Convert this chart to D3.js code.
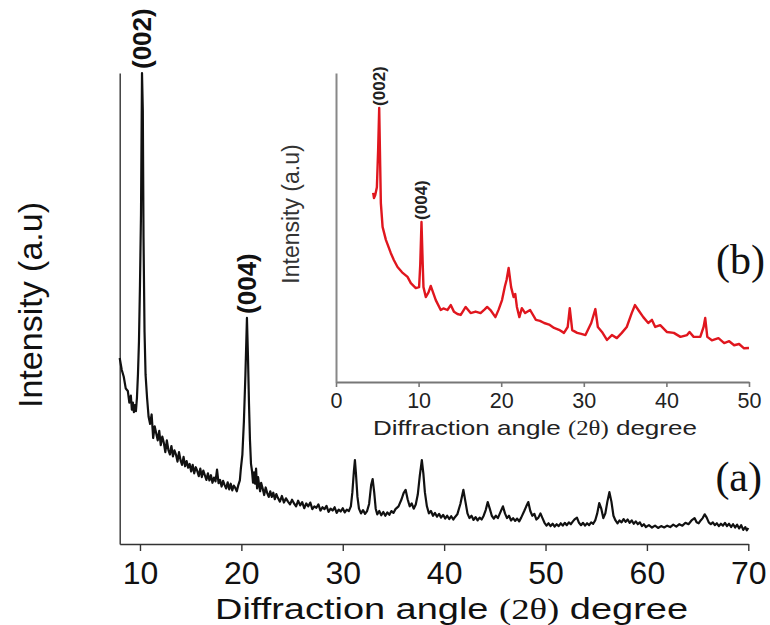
<!DOCTYPE html>
<html>
<head>
<meta charset="utf-8">
<script src="https://cdn.jsdelivr.net/npm/d3@7"></script>
<style>
  body { margin: 0; background: #fff; }
  svg { display: block; }
</style>
</head>
<body>
<svg id="chart" width="770" height="625"></svg>
<script>
// ---- XRD pattern (a): diffraction angle 2θ (deg) and intensity (a.u.) ----
const mainAngle = [
  8.0, 8.2, 8.4, 8.6, 8.8, 8.95, 9.1, 9.2, 9.3, 9.4, 9.5, 9.6, 9.7, 9.8, 9.9, 10.0, 10.1, 10.2, 10.28, 10.35,
  10.45, 10.55, 10.7, 10.85, 11.0, 11.15, 11.3, 11.45, 11.6, 11.75, 11.9, 12.05, 12.2, 12.35, 12.5, 12.65, 12.8, 12.95, 13.1, 13.25,
  13.4, 13.55, 13.7, 13.85, 14.0, 14.15, 14.3, 14.45, 14.6, 14.75, 14.9, 15.05, 15.2, 15.35, 15.5, 15.65, 15.8, 15.95, 16.1, 16.25,
  16.4, 16.55, 16.7, 16.85, 17.0, 17.15, 17.3, 17.45, 17.6, 17.75, 17.9, 18.05, 18.2, 18.35, 18.5, 18.65, 18.8, 18.95, 19.1, 19.25,
  19.4, 19.55, 19.7, 19.85, 19.95, 20.1, 20.25, 20.4, 20.55, 20.65, 20.75, 20.85, 20.95, 21.05, 21.15, 21.25, 21.35, 21.45, 21.55, 21.65,
  21.75, 21.85, 21.95, 22.1, 22.25, 22.4, 22.55, 22.7, 22.85, 23.0, 23.15, 23.3, 23.45, 23.6, 23.8, 24.0, 24.2, 24.4, 24.6, 24.8,
  25.0, 25.2, 25.4, 25.6, 25.8, 26.0, 26.2, 26.4, 26.6, 26.8, 27.0, 27.2, 27.4, 27.6, 27.8, 28.0, 28.2, 28.4, 28.6, 28.8,
  29.0, 29.2, 29.4, 29.6, 29.8, 30.0, 30.2, 30.4, 30.6, 30.8, 30.95, 31.1, 31.2, 31.3, 31.45, 31.6, 31.8, 32.0, 32.2, 32.4,
  32.6, 32.8, 32.95, 33.1, 33.25, 33.4, 33.6, 33.8, 34.0, 34.2, 34.4, 34.6, 34.8, 35.0, 35.2, 35.5, 35.8, 36.0, 36.2, 36.4,
  36.6, 36.8, 37.0, 37.2, 37.4, 37.6, 37.8, 37.95, 38.1, 38.3, 38.5, 38.7, 38.9, 39.1, 39.3, 39.5, 39.7, 39.9, 40.1, 40.3,
  40.5, 40.7, 40.9, 41.1, 41.3, 41.6, 41.9, 42.1, 42.3, 42.5, 42.7, 42.9, 43.1, 43.3, 43.5, 43.7, 43.9, 44.1, 44.3, 44.5,
  44.7, 44.9, 45.1, 45.3, 45.5, 45.8, 46.0, 46.2, 46.4, 46.6, 46.8, 47.0, 47.2, 47.4, 47.6, 47.9, 48.1, 48.3, 48.5, 48.7,
  48.9, 49.1, 49.3, 49.5, 49.7, 49.9, 50.1, 50.3, 50.5, 50.7, 50.9, 51.1, 51.3, 51.5, 51.7, 51.9, 52.1, 52.3, 52.5, 52.7,
  52.9, 53.1, 53.3, 53.5, 53.7, 53.9, 54.1, 54.3, 54.5, 54.7, 54.9, 55.1, 55.3, 55.5, 55.7, 55.9, 56.1, 56.3, 56.5, 56.7,
  56.9, 57.1, 57.3, 57.5, 57.7, 57.9, 58.1, 58.3, 58.5, 58.7, 58.9, 59.1, 59.3, 59.5, 59.7, 59.9, 60.2, 60.5, 60.8, 61.1,
  61.4, 61.7, 62.0, 62.3, 62.6, 62.9, 63.2, 63.5, 63.8, 64.1, 64.4, 64.7, 64.9, 65.1, 65.3, 65.5, 65.7, 65.9, 66.1, 66.3,
  66.5, 66.7, 66.9, 67.1, 67.3, 67.5, 67.7, 67.9, 68.1, 68.3, 68.5, 68.7, 68.9, 69.1, 69.3, 69.5, 69.7, 69.85, 70.0
];
const mainIntensity = [
  39.5, 37.0, 35.5, 33.0, 32.5, 30.0, 31.5, 28.5, 30.0, 28.0, 29.5, 28.2, 31.0, 36.0, 43.0, 55.0, 70.0, 100.0, 92.0, 65.0,
  45.0, 36.0, 31.0, 27.0, 25.5, 27.5, 22.5, 25.0, 23.5, 22.0, 24.0, 21.0, 22.8, 21.5, 19.5, 22.0, 20.0, 19.0, 20.8, 18.6,
  19.9, 19.0, 17.5, 19.5, 17.8, 16.8, 18.5, 16.5, 17.6, 16.2, 17.0, 15.4, 16.8, 15.0, 16.3, 15.5, 14.4, 16.0, 14.2, 15.6,
  14.6, 13.6, 15.0, 13.5, 14.6, 13.0, 14.1, 13.3, 15.8, 12.9, 13.6, 12.2, 13.4, 12.5, 11.8, 13.1, 11.6, 12.8, 11.4, 12.4,
  11.9, 11.2, 12.5, 13.5, 16.0, 19.0, 26.0, 36.0, 48.0, 40.0, 30.0, 22.0, 17.0, 15.5, 13.0, 15.2, 12.8, 16.0, 11.8, 14.2,
  12.5, 11.2, 13.0, 11.8, 10.4, 12.0, 10.8, 10.0, 11.2, 10.0, 10.9, 9.5, 10.6, 9.8, 9.0, 10.2, 8.8, 9.7, 9.0, 8.4,
  9.4, 8.6, 8.0, 9.2, 8.2, 8.9, 7.6, 8.6, 8.0, 8.8, 7.4, 8.0, 7.7, 8.4, 7.1, 7.8, 7.4, 8.1, 6.8, 7.5,
  7.1, 7.8, 6.6, 7.3, 6.9, 7.6, 6.7, 7.3, 7.0, 8.0, 11.0, 15.5, 17.8, 15.0, 10.0, 7.5, 6.5, 7.2, 6.4, 7.0,
  8.5, 12.5, 13.8, 11.0, 7.5, 6.3, 7.0, 6.1, 6.8, 6.0, 6.7, 6.2, 7.0, 6.6, 7.4, 8.0, 9.5, 10.8, 11.5, 9.5,
  8.0, 8.6, 7.5, 8.4, 10.5, 14.5, 17.8, 15.0, 11.0, 8.0, 6.5, 7.0, 6.0, 6.6, 5.8, 6.4, 5.6, 6.2, 5.4, 6.0,
  5.3, 5.9, 5.2, 5.8, 6.3, 8.5, 11.5, 9.0, 6.5, 5.5, 6.0, 5.1, 5.7, 5.0, 5.6, 5.2, 6.0, 7.2, 8.9, 7.5,
  6.0, 5.4, 6.0, 5.5, 6.5, 8.0, 6.5, 5.5, 6.0, 5.0, 5.5, 4.9, 5.4, 4.8, 5.6, 7.0, 8.0, 8.9, 7.0, 6.0,
  6.4, 5.2, 5.6, 6.5, 5.5, 4.5, 3.9, 4.4, 3.8, 4.3, 3.7, 4.2, 3.8, 4.4, 3.9, 4.5, 4.0, 4.6, 4.2, 4.8,
  5.3, 5.6, 4.5, 4.0, 4.5, 3.9, 4.4, 4.0, 4.6, 4.3, 5.0, 6.5, 8.7, 7.5, 5.5, 6.5, 9.0, 11.0, 9.0, 6.0,
  5.0, 4.4, 5.0, 4.6, 5.3, 4.7, 5.2, 4.5, 5.0, 4.3, 4.8, 4.2, 4.6, 3.8, 4.2, 3.6, 4.0, 3.5, 3.9, 3.4,
  3.8, 3.5, 3.9, 3.6, 4.1, 3.7, 4.2, 3.9, 4.5, 4.2, 5.0, 5.5, 4.6, 4.4, 5.0, 5.5, 6.3, 5.6, 4.6, 4.2,
  4.6, 4.0, 4.4, 3.8, 4.3, 3.9, 4.5, 3.8, 4.3, 3.6, 4.2, 3.5, 4.1, 3.3, 4.0, 3.0, 3.6, 2.9, 3.4
];
const mainTicks = [10, 20, 30, 40, 50, 60, 70];
const mainPeakLabels = ["(002)", "(004)"];
const mainPeakAngle = [10.2, 20.55];
const mainPeakIntensity = [100.0, 48.0];

// ---- XRD pattern (b), inset ----
const insetAngle = [
  4.5, 4.6, 4.75, 4.95, 5.1, 5.23, 5.35, 5.43, 5.64, 6.04, 6.64, 7.0, 7.45, 8.0, 8.66, 9.06, 9.66, 10.06, 10.2, 10.35,
  10.5, 10.59, 10.87, 11.2, 11.47, 12.08, 12.68, 13.0, 13.49, 13.89, 14.29, 14.7, 15.1, 15.7, 16.3, 16.9, 17.5, 18.0, 18.3, 18.7,
  19.3, 19.7, 20.1, 20.45, 20.65, 20.9, 21.2, 21.5, 21.7, 21.9, 22.2, 22.5, 22.9, 23.5, 24.2, 24.7, 25.2, 25.8, 26.4, 27.0,
  27.6, 28.05, 28.3, 28.6, 29.2, 29.7, 30.2, 30.9, 31.4, 31.7, 32.2, 32.8, 33.4, 34.0, 34.6, 35.2, 35.8, 36.2, 36.6, 37.2,
  37.8, 38.25, 38.65, 39.25, 40.05, 40.9, 41.7, 42.5, 42.8, 43.3, 44.1, 44.5, 44.7, 44.95, 45.5, 46.3, 47.0, 47.6, 48.2, 48.8,
  49.4, 50.0
];
const insetIntensity = [
  61.2, 59.5, 60.5, 63.0, 75.0, 88.7, 70.0, 57.9, 50.2, 46.0, 41.7, 39.5, 37.2, 35.5, 34.0, 32.0, 30.4, 30.7, 38.0, 51.8,
  38.0, 30.7, 27.5, 29.0, 31.1, 26.5, 23.3, 23.8, 23.3, 24.9, 22.7, 22.0, 21.7, 24.3, 22.3, 22.8, 22.3, 23.5, 24.3, 23.3,
  21.0, 23.5, 26.5, 31.0, 33.0, 36.9, 30.7, 27.5, 28.5, 24.3, 21.0, 23.9, 22.3, 23.3, 20.1, 19.8, 19.1, 18.6, 17.5, 16.9,
  15.9, 17.8, 23.9, 16.8, 15.9, 15.6, 15.2, 19.1, 23.6, 17.8, 16.2, 13.6, 15.2, 14.2, 15.9, 17.8, 22.3, 24.9, 23.3, 21.0,
  19.1, 20.1, 17.8, 18.4, 16.2, 15.9, 14.6, 15.2, 16.2, 14.6, 14.6, 17.8, 20.7, 14.6, 13.5, 14.2, 12.6, 13.2, 11.9, 12.3,
  10.9, 11.0
];
const insetTicks = [0, 10, 20, 30, 40, 50];
const insetPeakLabels = ["(002)", "(004)"];
const insetPeakAngle = [5.23, 10.35];
const insetPeakIntensity = [88.7, 51.8];

const SANS = "'Liberation Sans', Arial, sans-serif";
const SERIF = "'Liberation Serif', 'Times New Roman', serif";

const svg = d3.select("#chart");

// ---------- main panel ----------
const x = d3.scaleLinear().domain([8, 70]).range([119.7, 748.3]);
const y = d3.scaleLinear().domain([0, 100]).range([544, 73]);

const xAxis = svg.append("g")
  .attr("transform", `translate(0,${y(0)})`)
  .call(d3.axisBottom(x).tickValues(mainTicks).tickSize(7).tickSizeOuter(0).tickPadding(10));
xAxis.select(".domain").attr("stroke", "#333").attr("stroke-width", 1.6);
xAxis.selectAll(".tick line").attr("stroke", "#333").attr("stroke-width", 1.4);
xAxis.selectAll(".tick text")
  .attr("font-family", SANS).attr("font-size", 32).attr("fill", "#111")
  .attr("dy", "0.72em");

const yAxis = svg.append("g")
  .attr("transform", `translate(${x(8)},0)`)
  .call(d3.axisLeft(y).tickValues([]).tickSizeOuter(0));
yAxis.select(".domain").attr("stroke", "#333").attr("stroke-width", 1.4);

const mainLine = d3.line()
  .x((d, i) => x(mainAngle[i]))
  .y((d, i) => y(mainIntensity[i]));
svg.append("path")
  .datum(mainIntensity)
  .attr("d", mainLine)
  .attr("fill", "none")
  .attr("stroke", "#111")
  .attr("stroke-width", 2.2)
  .attr("stroke-linejoin", "round");

// Miller-index labels over the main peaks
mainPeakLabels.forEach((lab, i) => {
  const px = x(mainPeakAngle[i]) + 9;
  const py = y(mainPeakIntensity[i]) - 4;
  svg.append("text")
    .attr("transform", `translate(${px},${py}) rotate(-90)`)
    .attr("font-family", SANS).attr("font-weight", "bold").attr("font-size", 26)
    .attr("fill", "#111")
    .text(lab);
});

// axis titles
const xTitle = svg.append("text")
  .attr("x", 215).attr("y", 619)
  .attr("font-family", SANS).attr("font-size", 30).attr("fill", "#111")
  .attr("textLength", 473).attr("lengthAdjust", "spacingAndGlyphs");
xTitle.append("tspan").text("Diffraction angle ");
xTitle.append("tspan").attr("font-family", SERIF).attr("font-size", 29).text("(2θ)");
xTitle.append("tspan").text(" degree");

svg.append("text")
  .attr("transform", "translate(42,305) rotate(-90)")
  .attr("text-anchor", "middle")
  .attr("font-family", SANS).attr("font-size", 34).attr("fill", "#111")
  .text("Intensity (a.u)");

svg.append("text")
  .attr("x", 762).attr("y", 491).attr("text-anchor", "end")
  .attr("font-family", SERIF).attr("font-size", 42).attr("fill", "#111")
  .text("(a)");

// ---------- inset panel ----------
const xi = d3.scaleLinear().domain([0, 50]).range([336, 749]);
const yi = d3.scaleLinear().domain([0, 100]).range([382, 73]);

const xiAxis = svg.append("g")
  .attr("transform", `translate(0,${yi(0)})`)
  .call(d3.axisBottom(xi).tickValues(insetTicks).tickSize(5).tickSizeOuter(0).tickPadding(6));
xiAxis.select(".domain").attr("stroke", "#777").attr("stroke-width", 2);
xiAxis.selectAll(".tick line").attr("stroke", "#777").attr("stroke-width", 1.6);
xiAxis.selectAll(".tick text")
  .attr("font-family", SANS).attr("font-size", 21.5).attr("fill", "#222")
  .attr("dy", "0.72em");

const yiAxis = svg.append("g")
  .attr("transform", `translate(${xi(0)},0)`)
  .call(d3.axisLeft(yi).tickValues([]).tickSizeOuter(0));
yiAxis.select(".domain").attr("stroke", "#888").attr("stroke-width", 2);

const insetLine = d3.line()
  .x((d, i) => xi(insetAngle[i]))
  .y((d, i) => yi(insetIntensity[i]));
svg.append("path")
  .datum(insetIntensity)
  .attr("d", insetLine)
  .attr("fill", "none")
  .attr("stroke", "#e0161e")
  .attr("stroke-width", 2.4)
  .attr("stroke-linejoin", "round");

insetPeakLabels.forEach((lab, i) => {
  const px = xi(insetPeakAngle[i]) + 6;
  const py = yi(insetPeakIntensity[i]) - 2;
  svg.append("text")
    .attr("transform", `translate(${px},${py}) rotate(-90)`)
    .attr("font-family", SANS).attr("font-weight", "bold").attr("font-size", 17)
    .attr("fill", "#222")
    .text(lab);
});

const xiTitle = svg.append("text")
  .attr("x", 373).attr("y", 435)
  .attr("font-family", SANS).attr("font-size", 21).attr("fill", "#222")
  .attr("textLength", 324).attr("lengthAdjust", "spacingAndGlyphs");
xiTitle.append("tspan").text("Diffraction angle ");
xiTitle.append("tspan").attr("font-family", SERIF).attr("font-size", 20).text("(2θ)");
xiTitle.append("tspan").text(" degree");

svg.append("text")
  .attr("transform", "translate(299,214) rotate(-90)")
  .attr("text-anchor", "middle")
  .attr("font-family", SANS).attr("font-size", 23).attr("fill", "#333")
  .text("Intensity (a.u)");

svg.append("text")
  .attr("x", 765).attr("y", 274).attr("text-anchor", "end")
  .attr("font-family", SERIF).attr("font-size", 42).attr("fill", "#111")
  .text("(b)");
</script>
</body>
</html>
